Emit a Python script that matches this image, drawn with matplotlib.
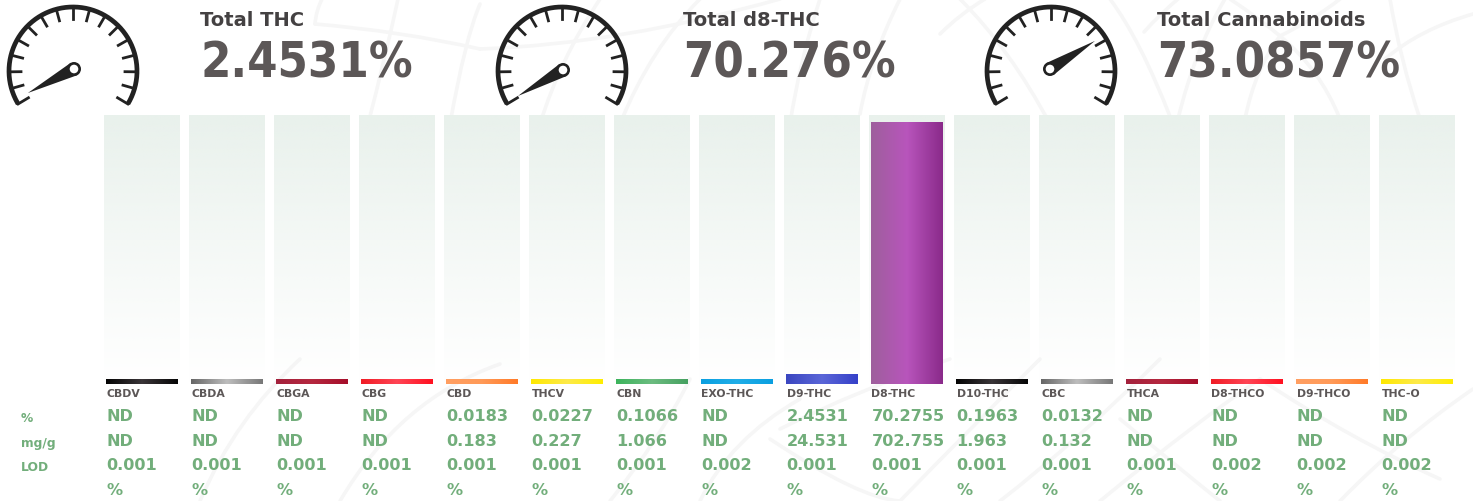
import numpy as np
import matplotlib
matplotlib.use("Agg")
import matplotlib.pyplot as plt
from matplotlib.colors import LinearSegmentedColormap
from matplotlib.patches import Circle, PathPatch, Polygon
from matplotlib.path import Path

plt.rcParams['font.family'] = 'DejaVu Sans'

W, H = 1473, 502

analytes = ["CBDV", "CBDA", "CBGA", "CBG", "CBD", "THCV", "CBN", "EXO-THC",
            "D9-THC", "D8-THC", "D10-THC", "CBC", "THCA", "D8-THCO", "D9-THCO", "THC-O"]
percent = ["ND", "ND", "ND", "ND", "0.0183", "0.0227", "0.1066", "ND",
           "2.4531", "70.2755", "0.1963", "0.0132", "ND", "ND", "ND", "ND"]
mg_g = ["ND", "ND", "ND", "ND", "0.183", "0.227", "1.066", "ND",
        "24.531", "702.755", "1.963", "0.132", "ND", "ND", "ND", "ND"]
lod = ["0.001", "0.001", "0.001", "0.001", "0.001", "0.001", "0.001", "0.002",
       "0.001", "0.001", "0.001", "0.001", "0.001", "0.002", "0.002", "0.002"]
units = ["%"] * 16
row_names = ["%", "mg/g", "LOD"]

totals_names = ["Total THC", "Total d8-THC", "Total Cannabinoids"]
totals_values = ["2.4531%", "70.276%", "73.0857%"]
# needle angle in degrees, read from the dials (they do not follow the value)
needle_angles = [207.5, 210.0, 32.0]

# bar colours, left / middle / right of the sheen
black = ["#040404", "#3a3538", "#060606"]
grey = ["#666666", "#bdbdbd", "#777777"]
crimson = ["#a3213c", "#b5283f", "#a50d2a"]
red = ["#f01c25", "#ff4555", "#ff1020"]
orange = ["#ff9f62", "#ff9a58", "#ff7a28"]
yellow = ["#ffe800", "#fdea4a", "#ffee00"]
green = ["#3cb45c", "#6cbc80", "#45a060"]
sky = ["#0a9fe0", "#20aee8", "#0a9fe0"]
blue = ["#3a46c0", "#5a66d8", "#3540c8"]
purple = ["#9e5f9c", "#b855bc", "#8a2a8a"]
bar_colors = [black, grey, crimson, red, orange, yellow, green, sky,
              blue, purple, black, grey, crimson, red, orange, yellow]

# faint background linework, quadratic strokes (start, control, end)
watermark = [
    ((322, 0), (316, 12), (315, 25)), ((315, 25), (400, 32), (480, 50)),
    ((398, 0), (385, 60), (368, 125)), ((480, 5), (465, 40), (450, 125)),
    ((200, 502), (235, 420), (300, 360)), ((340, 502), (400, 400), (500, 365)),
    ((600, 0), (560, 60), (540, 125)), ((700, 0), (650, 50), (620, 125)),
    ((820, 0), (800, 60), (790, 125)), ((900, 0), (870, 60), (860, 115)),
    ((480, 50), (620, 45), (780, 0)),
    ((940, 35), (960, 15), (985, 0)), ((960, 0), (1010, 50), (1050, 125)),
    ((1110, 0), (1140, 40), (1171, 120)), ((1144, 33), (1160, 15), (1178, 0)),
    ((1225, 0), (1195, 50), (1178, 120)), ((1230, 0), (1260, 20), (1280, 37)),
    ((1280, 37), (1315, 20), (1340, 0)), ((1280, 37), (1320, 70), (1340, 120)),
    ((1280, 37), (1255, 70), (1245, 120)), ((1390, 0), (1400, 60), (1420, 120)),
    ((1473, 15), (1420, 30), (1385, 60)),
    ((780, 430), (860, 390), (950, 360)), ((770, 440), (860, 500), (900, 502)),
    ((900, 502), (960, 440), (1040, 360)), ((1000, 502), (1080, 440), (1160, 360)),
    ((1100, 502), (1200, 420), (1260, 380)), ((1260, 380), (1350, 440), (1440, 480)),
    ((1120, 420), (1180, 470), (1220, 502)), ((1340, 502), (1400, 440), (1473, 390)),
    ((610, 502), (660, 440), (690, 380)), ((700, 502), (730, 440), (800, 400)),
]

bar_min_display = 1.34  # ND and tiny results still get a 5 px sliver
track_top = 72.1
px_per_unit = 262 / 70.2755

fig = plt.figure(figsize=(W / 100, H / 100), dpi=100, facecolor="white")

# full size pixel layer for the decoration, dials and text
over = fig.add_axes([0, 0, 1, 1], zorder=1)
over.set_xlim(0, W)
over.set_ylim(H, 0)
over.axis("off")

for p0, p1, p2 in watermark:
    path = Path([p0, p1, p2], [Path.MOVETO, Path.CURVE3, Path.CURVE3])
    over.add_patch(PathPatch(path, fc="none", ec="#f6f6f6", lw=2.6, capstyle="round"))

# bars, in percent
ax = fig.add_axes([99.5 / W, (H - 385) / H, 1360 / W, (track_top * px_per_unit) / H], zorder=2)
ax.patch.set_alpha(0)
x = np.arange(len(analytes))
heights = []
for p in percent:
    v = 0 if p == "ND" else float(p)
    heights.append(max(v, bar_min_display))

track_rgba = np.ones((256, 1, 4))
track_rgba[..., 0] = 233 / 255
track_rgba[..., 1] = 241 / 255
track_rgba[..., 2] = 236 / 255
track_rgba[..., 3] = np.linspace(1, 0, 256).reshape(-1, 1) ** 1.1
tracks = ax.bar(x, track_top, width=76 / 85, color="none")
for b in tracks:
    ax.imshow(track_rgba, extent=(b.get_x(), b.get_x() + b.get_width(), 0, b.get_height()),
              aspect="auto", origin="upper", zorder=1, interpolation="bilinear")

bars = ax.bar(x, heights, width=72 / 85, color="none")
sheen = np.linspace(0, 1, 256).reshape(1, -1)
for b, cols in zip(bars, bar_colors):
    cmap = LinearSegmentedColormap.from_list("sheen", cols)
    ax.imshow(sheen, cmap=cmap, extent=(b.get_x(), b.get_x() + b.get_width(), 0, b.get_height()),
              aspect="auto", zorder=2)

ax.set_xlim(-0.5, len(analytes) - 0.5)
ax.set_ylim(0, track_top)
ax.axis("off")

# dials
gauge_centers = [(73, 72), (562, 72), (1051, 72)]
hub_centers = [(74, 70), (563, 71), (1050, 70)]
needle_len = [52, 52, 53]
dark = "#222222"
for (cx, cy), (hx, hy), ang, nl in zip(gauge_centers, hub_centers, needle_angles, needle_len):
    t = np.radians(np.linspace(-31, 211, 200))
    over.plot(cx + 64 * np.cos(t), cy - 64 * np.sin(t), color=dark, lw=3.4, solid_capstyle="butt", zorder=3)
    for a in np.radians(np.linspace(-31, 211, 17)):
        over.plot([cx + 64 * np.cos(a), cx + 52 * np.cos(a)],
                  [cy - 64 * np.sin(a), cy - 52 * np.sin(a)], color=dark, lw=2.0, zorder=3)
    a = np.radians(ang)
    tip = (hx + nl * np.cos(a), hy - nl * np.sin(a))
    nx, ny = np.sin(a), np.cos(a)
    over.add_patch(Polygon([(hx + 7 * nx, hy + 7 * ny), tip, (hx - 7 * nx, hy - 7 * ny)],
                           fc=dark, ec="none", zorder=3))
    over.add_patch(Circle((hx, hy), 7.0, fc=dark, ec="none", zorder=4))
    over.add_patch(Circle((hx, hy), 4.3, fc="white", ec="none", zorder=5))

# big readouts
title_x = [200, 683, 1157]
for tx, name, val in zip(title_x, totals_names, totals_values):
    over.text(tx, 21, name, fontsize=14.0, fontweight="bold", color="#444142", va="center", ha="left")
    over.text(tx, 63, val, fontsize=35, fontweight="bold", stretch="condensed", color="#5c5757", va="center", ha="left")

# table under the bars
text_green = "#72ae7b"
for b, name, pc, mg, ld, un in zip(bars, analytes, percent, mg_g, lod, units):
    tx = b.get_x() * 85 + 99.5 + 42.5 + 0.5
    over.text(tx, 394, name, fontsize=7.8, fontweight="bold", color="#5c5757", va="center", ha="left", zorder=6)
    for yy, s in zip([417, 442, 466, 491], [pc, mg, ld, un]):
        over.text(tx, yy, s, fontsize=11.6, fontweight="bold", color=text_green, va="center", ha="left", zorder=6)
for yy, s in zip([419, 444, 468], row_names):
    over.text(21, yy, s, fontsize=8.8, fontweight="bold", color=text_green, va="center", ha="left", zorder=6)

fig.savefig("out.png", dpi=100)
